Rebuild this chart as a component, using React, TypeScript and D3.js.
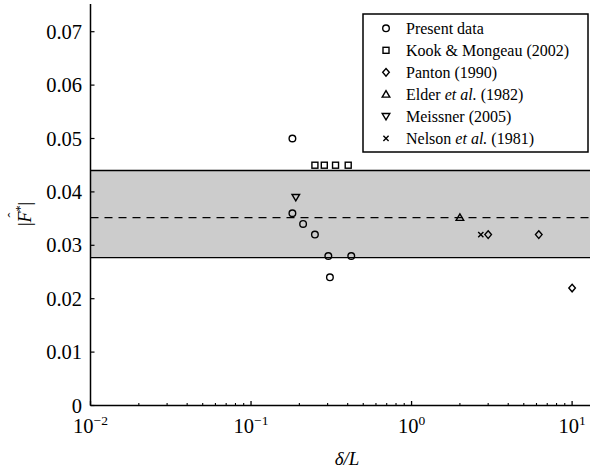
import React from "react";
import * as d3 from "d3";

const presentX = [0.181, 0.181, 0.211, 0.25, 0.303, 0.31, 0.421];
const presentY = [0.05, 0.036, 0.034, 0.032, 0.028, 0.024, 0.028];
const kookX = [0.25, 0.286, 0.336, 0.403];
const kookY = [0.045, 0.045, 0.045, 0.045];
const pantonX = [3.0, 6.2, 10];
const pantonY = [0.032, 0.032, 0.022];
const elderX = [2.0];
const elderY = [0.0352];
const meissnerX = [0.19];
const meissnerY = [0.039];
const nelsonX = [2.7];
const nelsonY = [0.032];

const bandLow = 0.0277;
const bandHigh = 0.044;
const bandMean = 0.0352;

const yTicks = [0, 0.01, 0.02, 0.03, 0.04, 0.05, 0.06, 0.07];
const yTickLabels = ["0", "0.01", "0.02", "0.03", "0.04", "0.05", "0.06", "0.07"];
const xMajor = [0.01, 0.1, 1, 10];
const xMajorExp = ["\u22122", "\u22121", "0", "1"];

const legendLabels = [
  ["Present data"],
  ["Kook & Mongeau (2002)"],
  ["Panton (1990)"],
  ["Elder ", "et al.", " (1982)"],
  ["Meissner (2005)"],
  ["Nelson ", "et al.", " (1981)"],
];

const FONT = "Liberation Serif, Times New Roman, serif";

type Kind = "circle" | "square" | "diamond" | "up" | "down" | "cross";

function Marker({ kind, x, y }: { kind: Kind; x: number; y: number }) {
  const s = { fill: "none", stroke: "#000", strokeWidth: 1.4 } as const;
  switch (kind) {
    case "circle":
      return <circle cx={x} cy={y} r={3.3} {...s} />;
    case "square":
      return <rect x={x - 3} y={y - 3} width={6} height={6} {...s} />;
    case "diamond":
      return <path d={`M${x},${y - 3.8}L${x + 3.3},${y}L${x},${y + 3.8}L${x - 3.3},${y}Z`} {...s} />;
    case "up":
      return <path d={`M${x},${y - 3.6}L${x + 3.8},${y + 2.8}L${x - 3.8},${y + 2.8}Z`} {...s} />;
    case "down":
      return <path d={`M${x},${y + 3.6}L${x + 3.8},${y - 2.8}L${x - 3.8},${y - 2.8}Z`} {...s} />;
    case "cross":
      return <path d={`M${x - 2.6},${y - 2.6}L${x + 2.6},${y + 2.6}M${x - 2.6},${y + 2.6}L${x + 2.6},${y - 2.6}`} {...s} />;
  }
}

export default function App() {
  const left = 90.5;
  const bottom = 405.5;
  const top = 5;
  const right = 590.4;
  const x = d3.scaleLog().domain([0.01, 13]).range([left, right]);
  const y = d3.scaleLinear().domain([0, 0.075]).range([bottom, top]);

  const series: { kind: Kind; xs: number[]; ys: number[] }[] = [
    { kind: "circle", xs: presentX, ys: presentY },
    { kind: "square", xs: kookX, ys: kookY },
    { kind: "diamond", xs: pantonX, ys: pantonY },
    { kind: "up", xs: elderX, ys: elderY },
    { kind: "down", xs: meissnerX, ys: meissnerY },
    { kind: "cross", xs: nelsonX, ys: nelsonY },
  ];

  const minor = x.ticks().filter((t) => !xMajor.some((m) => Math.abs(m - t) / m < 1e-6));

  const lgX = 363, lgY = 14, lgW = 225, lgH = 138;

  return (
    <svg
      width={590}
      height={470}
      style={{ position: "absolute", left: 0, top: 0, background: "#fff", fontFamily: FONT }}
    >
      {/* band */}
      <rect x={left} y={y(bandHigh)} width={right - left} height={y(bandLow) - y(bandHigh)} fill="#cccccc" />
      <line x1={left} x2={right} y1={y(bandHigh)} y2={y(bandHigh)} stroke="#000" strokeWidth={1.4} />
      <line x1={left} x2={right} y1={y(bandLow)} y2={y(bandLow)} stroke="#000" strokeWidth={1.4} />
      <line x1={left} x2={right} y1={y(bandMean)} y2={y(bandMean)} stroke="#000" strokeWidth={1.3} strokeDasharray="8,6" />

      {/* axes */}
      <line x1={left} x2={left} y1={top - 1} y2={bottom} stroke="#000" strokeWidth={1.5} />
      <line x1={left} x2={right} y1={bottom} y2={bottom} stroke="#000" strokeWidth={1.5} />
      {yTicks.map((t, i) => (
        <g key={"y" + i}>
          <line x1={left} x2={left + 4} y1={y(t)} y2={y(t)} stroke="#000" strokeWidth={1.2} />
          <text x={82} y={y(t)} dy="0.35em" textAnchor="end" fontSize={20.5} style={{ fontFamily: FONT }}>
            {yTickLabels[i]}
          </text>
        </g>
      ))}
      {minor.map((t, i) => (
        <line key={"m" + i} x1={x(t)} x2={x(t)} y1={bottom} y2={bottom - 2.5} stroke="#000" strokeWidth={1.1} />
      ))}
      {xMajor.map((t, i) => (
        <g key={"x" + i}>
          <line x1={x(t)} x2={x(t)} y1={bottom} y2={bottom - 4.5} stroke="#000" strokeWidth={1.3} />
          <text x={x(t)} y={433} textAnchor="middle" fontSize={20.5} style={{ fontFamily: FONT }}>
            10
            <tspan fontSize={13.5} dy={-8}>
              {xMajorExp[i]}
            </tspan>
          </text>
        </g>
      ))}

      {/* axis labels */}
      <text x={347} y={465} textAnchor="middle" fontSize={19} fontStyle="italic" style={{ fontFamily: FONT }}>
        δ/L
      </text>
      <g transform="translate(31,214) rotate(-90)" style={{ fontFamily: FONT }}>
        <text x={0} y={0} textAnchor="middle" fontSize={18}>
          |<tspan fontStyle="italic">F</tspan>
          <tspan fontSize={12} dy={-7}>*</tspan>
          <tspan dy={7}>|</tspan>
        </text>
        <text x={-1} y={-13} textAnchor="middle" fontSize={15}>ˆ</text>
      </g>

      {/* data */}
      {series.map((s, si) =>
        s.xs.map((xv, i) => <Marker key={si + "-" + i} kind={s.kind} x={x(xv)} y={y(s.ys[i])} />)
      )}

      {/* legend */}
      <rect x={lgX} y={lgY} width={lgW} height={lgH} fill="#fff" stroke="#000" strokeWidth={1.5} />
      {series.map((s, i) => {
        const ry = 28.3 + i * 22;
        const lab = legendLabels[i];
        return (
          <g key={"lg" + i}>
            <Marker kind={s.kind} x={386} y={ry} />
            <text x={406} y={ry} dy="0.33em" fontSize={16} style={{ fontFamily: FONT }}>
              {lab.length === 1 ? (
                lab[0]
              ) : (
                <>
                  {lab[0]}
                  <tspan fontStyle="italic">{lab[1]}</tspan>
                  {lab[2]}
                </>
              )}
            </text>
          </g>
        );
      })}
    </svg>
  );
}
